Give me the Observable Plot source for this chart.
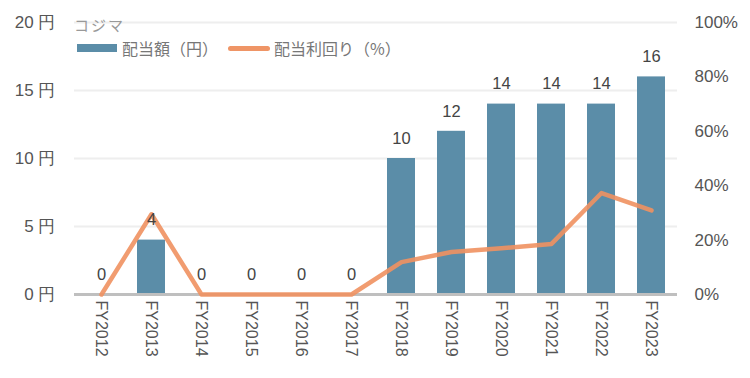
<!DOCTYPE html>
<html><head><meta charset="utf-8">
<script src="https://cdn.jsdelivr.net/npm/d3@7"></script>
<script src="https://cdn.jsdelivr.net/npm/@observablehq/plot@0.6"></script>
<style>
body{margin:0;background:#fff;font-family:"Noto Sans CJK JP","Liberation Sans",sans-serif;}
#wrap{position:relative;width:750px;height:378px;}
#legend{position:absolute;left:74px;top:14px;font-size:16px;color:#777;line-height:22px;}
#legend .t{color:#999;font-size:15px;letter-spacing:2px;}
#legend .row{display:flex;align-items:center;margin-top:1px;}
.sw{display:inline-block;}
</style></head><body>
<div id="wrap"><div id="chart"></div>
<div id="legend"><div class="t">コジマ</div>
<div class="row"><span class="sw" style="width:40px;height:8px;background:#5b8da8;margin:0 5px 0 3px"></span><span>配当額（円）</span>
<span class="sw" style="width:42px;height:5px;border-radius:3px;background:#ef9566;margin:0 4px 0 10px"></span><span>配当利回り（%）</span></div></div>
</div>
<script>
const years = ["FY2012","FY2013","FY2014","FY2015","FY2016","FY2017","FY2018","FY2019","FY2020","FY2021","FY2022","FY2023"];
const dividend = [0,4,0,0,0,0,10,12,14,14,14,16];
const yieldPct = [0,29.5,0,0,0,0,11.9,15.6,17.0,18.6,37.3,30.9];
const leftTicks = [0,5,10,15,20];
const rightTicks = [0,20,40,60,80,100];

const data = years.map((y,i)=>({year:y, div:dividend[i], yld:yieldPct[i], yv:yieldPct[i]/5}));
const chart = Plot.plot({
  width:750, height:378,
  marginLeft:74, marginRight:73, marginTop:22, marginBottom:84,
  style:{fontFamily:"'Liberation Sans',sans-serif", fontSize:"15px", color:"#555"},
  x:{domain:years, paddingInner:0.44, paddingOuter:0.22, label:null},
  y:{domain:[0,20], label:null},
  marks:[
    Plot.ruleY(leftTicks.filter(d=>d>0), {stroke:"#eeeeee", strokeWidth:2}),
    Plot.barY(data, {x:"year", y:"div", fill:"#5b8da8"}),
    Plot.ruleY([0], {stroke:"#bfbfbf", strokeWidth:3}),
    Plot.line(data, {x:"year", y:"yv", stroke:"#ef9161", strokeWidth:4.5, strokeOpacity:0.9}),
    Plot.text(data, {x:"year", y:"div", text:d=>String(d.div), dy:-20, fill:"#444", fontSize:16.5}),
    Plot.axisY({ticks:leftTicks, tickFormat:d=>d+" 円", tickSize:0, tickPadding:19, anchor:"left", fontSize:17, label:null}),
    Plot.axisY({ticks:rightTicks.map(d=>d/5), tickFormat:d=>(d*5)+"%", tickSize:0, tickPadding:17, anchor:"right", textAnchor:"start", fontSize:17, label:null}),
    Plot.axisX({tickSize:0, tickPadding:6, tickRotate:90, textAnchor:"start", fontSize:16, label:null})
  ]
});
document.getElementById("chart").appendChild(chart);
</script></body></html>
